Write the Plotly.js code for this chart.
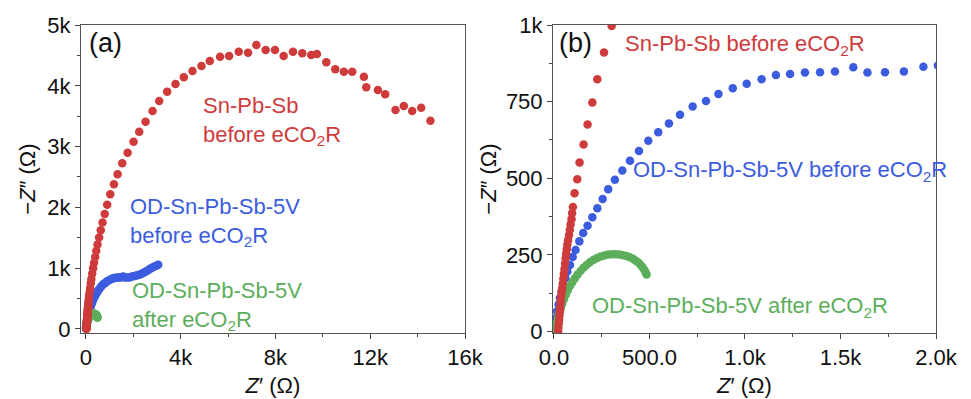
<!DOCTYPE html>
<html>
<head>
<meta charset="utf-8">
<script src="https://cdn.plot.ly/plotly-3.0.1.min.js"></script>
<style>
  html, body { margin: 0; padding: 0; background: #fff; }
  #chart { width: 971px; height: 399px; }
</style>
</head>
<body>
<div id="chart"></div>
<script>
// Nyquist data (Z' and -Z'' in ohm) for the three electrodes
const snPbSbX = [22,23,25,27,29,31,33,35,37,40,43,46,49,52,55,58,61,64,67,70,74,79,83,87,92,95,99,108,122,134,155,176,201,227,262,302,342,388,435,488,555,625,700,790,895,1026,1180,1335,1532,1757,2010,2248,2515,2810,3091,3428,3780,4131,4496,4876,5227,5662,6041,6449,6843,7194,7587,7980,8346,8738,9132,9511,9750,10145,10524,10888,11241,11733,11831,12323,12631,13066,13417,13770,14150,14541];
const snPbSbY = [0,12,25,38,52,66,80,95,110,125,140,156,172,188,204,221,239,254,269,284,298,315,332,349,366,386,406,451,497,551,610,675,747,823,910,997,1090,1185,1285,1390,1505,1625,1750,1890,2045,2215,2380,2544,2725,2900,3081,3245,3410,3586,3750,3904,4030,4139,4243,4326,4408,4479,4490,4561,4545,4671,4589,4589,4490,4561,4534,4507,4523,4386,4271,4232,4232,4150,3975,3931,3860,3602,3668,3586,3640,3426];

const odBeforeX = [0,3,10,17,24,31,40,49,60,70,84,98,113,133,153,176,201,227,255,284,319,358,398,445,494,546,602,660,726,796,861,936,1009,1087,1162,1236,1314,1393,1471,1567,1641,1733,1832,1934,2010,2090,2170,2250,2330,2410,2490,2570,2650,2730,2810,2890,2970,3050];
const odBeforeY = [3,23,44,66,88,109,131,152,174,196,217,243,266,294,321,345,373,402,432,464,495,525,557,589,622,650,679,707,734,752,775,794,808,823,837,840,845,846,848,862,845,846,848,864,868,874,882,893,905,920,937,955,975,995,1012,1028,1042,1055];

const odAfterX = [8,12,17,22,28,35,43,52,62,72,84,96,110,124,140,156,172,190,208,226,245,264,284,304,324,344,362,380,398,414,428,442,454,465,474,481,485];
const odAfterY = [4,18,32,46,60,75,90,105,120,134,148,161,174,186,198,209,218,227,234,240,245,248,251,252,252,251,249,246,242,237,231,225,217,209,200,192,186];

// Axis ticks
const aXTickVals = [0,4000,8000,12000,16000];
const aXTickText = ['0','4k','8k','12k','16k'];
const aYTickVals = [0,1000,2000,3000,4000,5000];
const aYTickText = ['0','1k','2k','3k','4k','5k'];
const bXTickVals = [0,500,1000,1500,2000];
const bXTickText = ['0.0','500.0','1.0k','1.5k','2.0k'];
const bYTickVals = [0,250,500,750,1000];
const bYTickText = ['0','250','500','750','1k'];

const RED = '#cf3b3b', BLUE = '#3c5ce0', GREEN = '#5cae5c';
const FONT = 'Liberation Sans, Arial, Helvetica, sans-serif';
const W = 971, H = 399;
const px = x => x / W;
const py = y => 1 - y / H;

function series(x, y, color, xa, ya) {
  return { x: x, y: y, xaxis: xa, yaxis: ya, type: 'scatter', mode: 'markers',
           marker: { color: color, size: 8.5 }, hoverinfo: 'skip', showlegend: false };
}

const traces = [];
[['x', 'y'], ['x2', 'y2']].forEach(([xa, ya]) => {
  traces.push(series(odBeforeX, odBeforeY, BLUE, xa, ya));
  traces.push(series(odAfterX, odAfterY, GREEN, xa, ya));
  traces.push(series(snPbSbX, snPbSbY, RED, xa, ya));
});

function axis(domain, range, vals, text, minorStep, titleText, standoff) {
  return {
    domain: domain, range: range, tickmode: 'array', tickvals: vals, ticktext: text,
    ticks: 'outside', ticklen: 5, tickwidth: 1, tickcolor: '#444',
    minor: { tickmode: 'linear', tick0: 0, dtick: minorStep, ticks: 'outside', ticklen: 3, tickcolor: '#444' },
    showline: true, linecolor: '#555', linewidth: 1, mirror: true,
    showgrid: false, zeroline: false, automargin: false,
    tickfont: { family: FONT, size: 22, color: '#111' },
    title: { text: titleText, font: { family: FONT, size: 22, color: '#111' }, standoff: standoff }
  };
}

const xTitle = '<i>Z</i>\u2032 (\u03A9)';
const yTitle = '\u2212<i>Z</i>\u2033 (\u03A9)';
const yDom = [py(333), py(25)];

const layout = {
  width: W, height: H,
  margin: { l: 0, r: 0, t: 0, b: 0 },
  paper_bgcolor: '#fff', plot_bgcolor: '#fff',
  showlegend: false,
  xaxis: axis([px(81), px(465)], [-210, 16000], aXTickVals, aXTickText, 2000, xTitle, 8),
  yaxis: axis(yDom, [-66, 5000], aYTickVals, aYTickText, 500, yTitle, 5),
  xaxis2: axis([px(553), px(936)], [-5, 2000], bXTickVals, bXTickText, 250, xTitle, 8),
  yaxis2: axis(yDom, [-5, 1000], bYTickVals, bYTickText, 125, yTitle, 3),
  annotations: []
};
layout.xaxis2.anchor = 'y2';
layout.yaxis2.anchor = 'x2';

function note(text, x, y, color, size) {
  layout.annotations.push({
    text: text, xref: 'paper', yref: 'paper', x: px(x), y: py(y),
    xanchor: 'left', yanchor: 'middle', align: 'left', showarrow: false,
    font: { family: FONT, size: size || 22, color: color }
  });
}

note('(a)', 87, 43, '#111', 27);
note('Sn-Pb-Sb<br>before eCO<sub>2</sub>R', 201, 121, RED);
note('OD-Sn-Pb-Sb-5V<br>before eCO<sub>2</sub>R', 128, 222, BLUE);
note('OD-Sn-Pb-Sb-5V<br>after eCO<sub>2</sub>R', 130, 306, GREEN);
note('(b)', 557, 43, '#111', 27);
note('Sn-Pb-Sb before eCO<sub>2</sub>R', 623, 45, RED);
note('OD-Sn-Pb-Sb-5V before eCO<sub>2</sub>R', 631, 171, BLUE);
note('OD-Sn-Pb-Sb-5V after eCO<sub>2</sub>R', 590, 307, GREEN);

Plotly.newPlot('chart', traces, layout, { staticPlot: true, displayModeBar: false });
</script>
</body>
</html>
